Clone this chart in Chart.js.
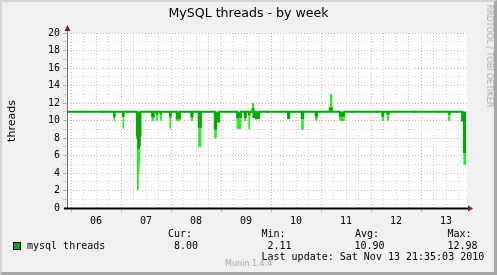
<!DOCTYPE html>
<html>
<head>
<meta charset="utf-8">
<script src="https://cdn.jsdelivr.net/npm/chart.js@4.4.0/dist/chart.umd.min.js"></script>
<style>
  html, body { margin: 0; padding: 0; }
  body { width: 497px; height: 275px; overflow: hidden; background: #f0f0f0; }
  .wrap { position: relative; width: 497px; height: 275px; }
  canvas { position: absolute; left: 0; top: 0; }
  .frame { position: absolute; left: 0; top: 0; width: 497px; height: 275px; box-sizing: border-box;
    border-style: solid; border-width: 2px 3px 3px 2px; border-color: #d4d4d4 #a6a6a6 #a6a6a6 #d4d4d4; pointer-events: none; }
  .t { position: absolute; white-space: pre; color: #000; }
  .mono { font-family: "DejaVu Sans Mono", monospace; font-size: 10px; line-height: 10px; }
  .title { left: 0; width: 497px; top: 7px; text-align: center; font-family: "DejaVu Sans", sans-serif; font-size: 12.6px; line-height: 12.6px; }
  .ylab { left: 11px; top: 121px; font-family: "DejaVu Sans", sans-serif; font-size: 11px; line-height: 11px;
    transform: translate(-50%, -50%) rotate(-90deg); }
  .credit { left: 489px; top: 56px; font-family: "DejaVu Sans", sans-serif; font-size: 8px; line-height: 8px; color: #a8a8a8;
    transform: translate(-50%, -50%) rotate(90deg); }
  .munin { left: 225px; top: 260px; font-family: "DejaVu Sans", sans-serif; font-size: 8px; line-height: 8px; color: #a8a8a8; }
  .swatch { position: absolute; left: 13px; top: 242px; width: 8px; height: 8px; box-sizing: border-box;
    border: 1px solid #000; background: #00aa00; }
</style>
</head>
<body>
<div class="wrap">
  <canvas id="chart" width="497" height="275"></canvas>
  <div class="t title">MySQL threads - by week</div>
  <div class="t ylab">threads</div>
  <div class="t credit">RRDTOOL / TOBI OETIKER</div>
  <div class="swatch"></div>
  <div class="t mono" style="left:27px; top:240.5px">mysql threads</div>
  <div class="t mono" style="left:168px; top:228.5px">Cur:</div>
  <div class="t mono" style="left:174px; top:240.5px">8.00</div>
  <div class="t mono" style="left:261.5px; top:228.5px">Min:</div>
  <div class="t mono" style="left:267.5px; top:240.5px">2.11</div>
  <div class="t mono" style="left:355px; top:228.5px">Avg:</div>
  <div class="t mono" style="left:354.5px; top:240.5px">10.90</div>
  <div class="t mono" style="left:447.5px; top:228.5px">Max:</div>
  <div class="t mono" style="left:447.5px; top:240.5px">12.98</div>
  <div class="t mono" style="left:261.5px; top:251.5px">Last update: Sat Nov 13 21:35:03 2010</div>
  <div class="t munin">Munin 1.4.4</div>
  <div class="frame"></div>
</div>
<script>
// time in days of November 2010, each value holds until the next time
const days = [
  5.92,
  6.860, 6.872,
  7.040, 7.052,
  7.320, 7.330, 7.345, 7.360, 7.375, 7.390,
  7.622, 7.658,
  7.714, 7.726,
  7.794, 7.806,
  7.980, 7.992,
  8.114, 8.178,
  8.408, 8.432,
  8.554, 8.598,
  8.875, 8.905, 8.965,
  9.322, 9.398,
  9.476, 9.496,
  9.558, 9.570,
  9.630, 9.650, 9.688, 9.700, 9.760,
  10.342, 10.366,
  10.615, 10.645,
  10.894, 10.918,
  11.174, 11.190, 11.218,
  11.375, 11.465,
  12.226, 12.246,
  12.328, 12.352,
  13.554, 13.578,
  13.822, 13.858, 13.905
];
// averaged thread count (dark line)
const threads = [
  11,
  10.5, 11,
  10.55, 11,
  8.3, 8.0, 6.9, 7.2, 8.3, 11,
  10.5, 11,
  10.8, 11,
  10.8, 11,
  10.5, 11,
  10.25, 11,
  10.5, 11,
  9.3, 11,
  9.1, 9.9, 11,
  10.4, 11,
  10.4, 11,
  10.7, 11,
  11.3, 10.4, 11, 10.25, 11,
  10.25, 11,
  10.3, 11,
  10.5, 11,
  11.4, 11.4, 11,
  10.55, 11,
  10.55, 11,
  10.8, 11,
  10.8, 11,
  10.0, 6.4, 6.4
];
// short extremes reached inside each sample (light line)
const threadsTip = [
  11,
  10.0, 11,
  9.1, 11,
  8.3, 2.1, 4.0, 5.0, 8.3, 11,
  10.0, 11,
  10.0, 11,
  10.0, 11,
  9.1, 11,
  10.0, 11,
  10.0, 11,
  7.0, 11,
  8.0, 9.9, 11,
  9.1, 11,
  10.0, 11,
  9.0, 11,
  12.0, 10.4, 11, 10.25, 11,
  10.25, 11,
  9.0, 11,
  10.0, 11,
  11.4, 13.0, 11,
  10.0, 11,
  10.0, 11,
  10.0, 11,
  10.0, 11,
  10.0, 5.0, 5.0
];
const dayLabels = ['06', '07', '08', '09', '10', '11', '12', '13'];
const xStart = 5.92;
const xEnd = 13.92;
const baseline = 11;

const darkGreen = '#00aa00';
const lightGreen = '#22ee22';
const majorGrid = 'rgba(240, 90, 90, 0.55)';
const minorGrid = 'rgba(150, 150, 150, 0.45)';

const toPoints = vals => days.map((d, i) => ({ x: d, y: vals[i] }));

const axisPlugin = {
  id: 'rrdAxes',
  beforeDraw(chart) {
    const { ctx, chartArea: a } = chart;
    ctx.save();
    ctx.fillStyle = '#ffffff';
    ctx.fillRect(a.left, a.top, a.right - a.left, a.bottom - a.top);
    ctx.restore();
  },
  afterDatasetsDraw(chart) {
    const { ctx, chartArea: a } = chart;
    ctx.save();
    // y axis
    ctx.strokeStyle = '#707070';
    ctx.lineWidth = 1;
    ctx.beginPath();
    ctx.moveTo(a.left + 0.5, a.bottom);
    ctx.lineTo(a.left + 0.5, a.top - 4);
    ctx.stroke();
    // x axis
    ctx.strokeStyle = '#000000';
    ctx.lineWidth = 2;
    ctx.beginPath();
    ctx.moveTo(a.left - 3, a.bottom + 0.5);
    ctx.lineTo(a.right + 1, a.bottom + 0.5);
    ctx.stroke();
    // arrows
    ctx.fillStyle = '#8c1c1c';
    ctx.beginPath();
    ctx.moveTo(a.left + 0.5, a.top - 8);
    ctx.lineTo(a.left - 2.5, a.top - 2);
    ctx.lineTo(a.left + 3.5, a.top - 2);
    ctx.closePath();
    ctx.fill();
    ctx.beginPath();
    ctx.moveTo(a.right + 6, a.bottom + 0.5);
    ctx.lineTo(a.right + 1, a.bottom - 2.5);
    ctx.lineTo(a.right + 1, a.bottom + 3.5);
    ctx.closePath();
    ctx.fill();
    ctx.restore();
  }
};

new Chart(document.getElementById('chart'), {
  type: 'line',
  data: {
    datasets: [
      {
        label: 'mysql threads',
        data: toPoints(threads),
        borderColor: darkGreen,
        backgroundColor: darkGreen,
        borderWidth: 2,
        stepped: true,
        pointRadius: 0,
        fill: { value: baseline }
      },
      {
        label: 'mysql threads (tip)',
        data: toPoints(threadsTip),
        borderColor: lightGreen,
        backgroundColor: lightGreen,
        borderWidth: 1,
        stepped: true,
        pointRadius: 0,
        fill: { value: baseline }
      }
    ]
  },
  options: {
    responsive: false,
    animation: false,
    devicePixelRatio: 1,
    layout: { padding: { left: 0, right: 30, top: 33, bottom: 0 } },
    plugins: {
      legend: { display: false },
      tooltip: { enabled: false },
      title: { display: false }
    },
    scales: {
      x: {
        type: 'linear',
        min: xStart,
        max: xEnd,
        afterBuildTicks: axis => {
          const ticks = [];
          for (let v = 6; v < xEnd; v += 0.25) ticks.push({ value: v });
          axis.ticks = ticks;
        },
        afterFit: axis => { axis.height = 67; },
        ticks: {
          autoSkip: false,
          maxRotation: 0,
          padding: 3,
          color: '#000',
          font: { family: 'DejaVu Sans Mono', size: 10 },
          callback: v => (v % 1 === 0.5 ? dayLabels[Math.floor(v) - 6] : '')
        },
        grid: {
          color: c => (Number.isInteger(c.tick.value) ? majorGrid : minorGrid),
          tickColor: c => (Number.isInteger(c.tick.value) ? majorGrid : 'rgba(0,0,0,0)'),
          tickLength: 4,
          lineWidth: 1
        },
        border: { display: false, dash: [1, 2] }
      },
      y: {
        min: 0,
        max: 20,
        afterFit: axis => { axis.width = 67; },
        ticks: {
          stepSize: 1,
          autoSkip: false,
          padding: 3,
          color: '#000',
          font: { family: 'DejaVu Sans Mono', size: 10 },
          callback: v => (v % 2 === 0 ? String(v) : '')
        },
        grid: {
          color: c => (c.tick.value % 2 === 0 ? majorGrid : minorGrid),
          tickColor: c => (c.tick.value % 2 === 0 ? majorGrid : minorGrid),
          tickLength: 4,
          lineWidth: 1
        },
        border: { display: false, dash: [1, 2] }
      }
    }
  },
  plugins: [axisPlugin]
});
</script>
</body>
</html>
